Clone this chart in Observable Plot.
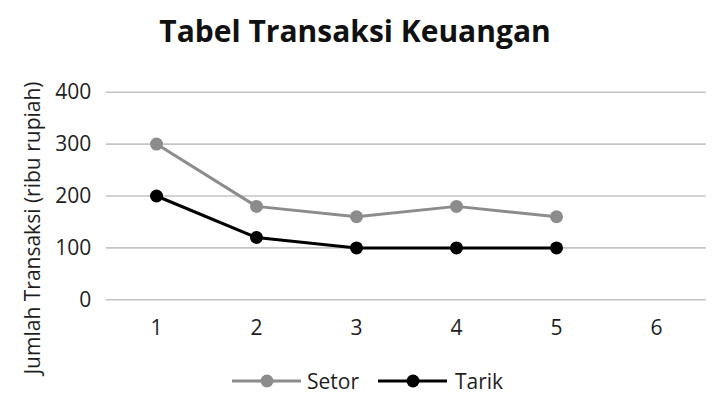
<!DOCTYPE html>
<html>
<head>
<meta charset="utf-8">
<script src="https://cdn.jsdelivr.net/npm/d3@7"></script>
<script src="https://cdn.jsdelivr.net/npm/@observablehq/plot@0.6"></script>
<style>
  html, body { margin: 0; padding: 0; background: #fff; }
  #wrap { position: relative; width: 720px; height: 406px; overflow: hidden; font-family: "Open Sans", sans-serif; color: #1e1e1e; }
  #title { height: 62px; box-sizing: border-box; padding-top: 10px; padding-right: 10px; text-align: center; font-size: 30px; font-weight: 700; line-height: normal; color: #111; }
  #chart { height: 290px; }
  #chart svg { display: block; }
  #ylabel { position: absolute; left: 32px; top: 228px; transform: translate(-50%, -50%) rotate(-90deg); white-space: nowrap; font-size: 21px; line-height: normal; }
  #legend { position: relative; height: 54px; }
  .lg-icon { position: absolute; top: 22px; }
  .lg-text { position: absolute; font-size: 21px; line-height: normal; top: 15px; }
</style>
</head>
<body>
<div id="wrap">
  <div id="title">Tabel Transaksi Keuangan</div>
  <div id="chart"></div>
  <div id="legend"></div>
  <div id="ylabel">Jumlah Transaksi (ribu rupiah)</div>
</div>
<script>
// ---- data ----
const categories = [1, 2, 3, 4, 5, 6];
const seriesNames = ["Setor", "Tarik"];
const seriesColors = ["#8c8c8c", "#000000"];
const setor = [300, 180, 160, 180, 160];
const tarik = [200, 120, 100, 100, 100];
const yTicks = [0, 100, 200, 300, 400];

const seriesValues = [setor, tarik];
const data = seriesNames.flatMap((name, s) =>
  seriesValues[s].map((v, i) => ({ period: categories[i], value: v, series: name }))
);

const chart = Plot.plot({
  width: 720,
  height: 290,
  marginLeft: 105.7,
  marginRight: 14.3,
  marginTop: 29.7,
  marginBottom: 52.7,
  style: { fontFamily: "Open Sans", fontSize: "21px", color: "#1e1e1e", background: "white", overflow: "visible" },
  x: { type: "band", domain: categories, padding: 0 },
  y: { domain: [0, 400], ticks: yTicks },
  color: { domain: seriesNames, range: seriesColors },
  marks: [
    Plot.gridY(yTicks, { stroke: "#c4c4c4", strokeOpacity: 1, strokeWidth: 1.6 }),
    Plot.axisY(yTicks, { tickSize: 0, tickPadding: 15, label: null, fontSize: 21 }),
    Plot.axisX({ tickSize: 0, tickPadding: 20, label: null, fontSize: 21 }),
    Plot.line(data, { x: "period", y: "value", z: "series", stroke: "series", strokeWidth: 3 }),
    Plot.dot(data, { x: "period", y: "value", fill: "series", r: 6.5 })
  ]
});
document.getElementById("chart").appendChild(chart);

// ---- legend ----
const legend = d3.select("#legend");
const lgIconLeft = [232, 378];
const lgTextLeft = [307, 455];
seriesNames.forEach((name, i) => {
  const svg = legend.append("svg")
    .attr("class", "lg-icon")
    .attr("width", 70).attr("height", 14)
    .style("left", lgIconLeft[i] + "px");
  svg.append("line").attr("x1", 0).attr("x2", 69).attr("y1", 7).attr("y2", 7)
    .attr("stroke", seriesColors[i]).attr("stroke-width", 3);
  svg.append("circle").attr("cx", 35).attr("cy", 7).attr("r", 6.5).attr("fill", seriesColors[i]);
  legend.append("span").attr("class", "lg-text").style("left", lgTextLeft[i] + "px").text(name);
});
</script>
</body>
</html>
